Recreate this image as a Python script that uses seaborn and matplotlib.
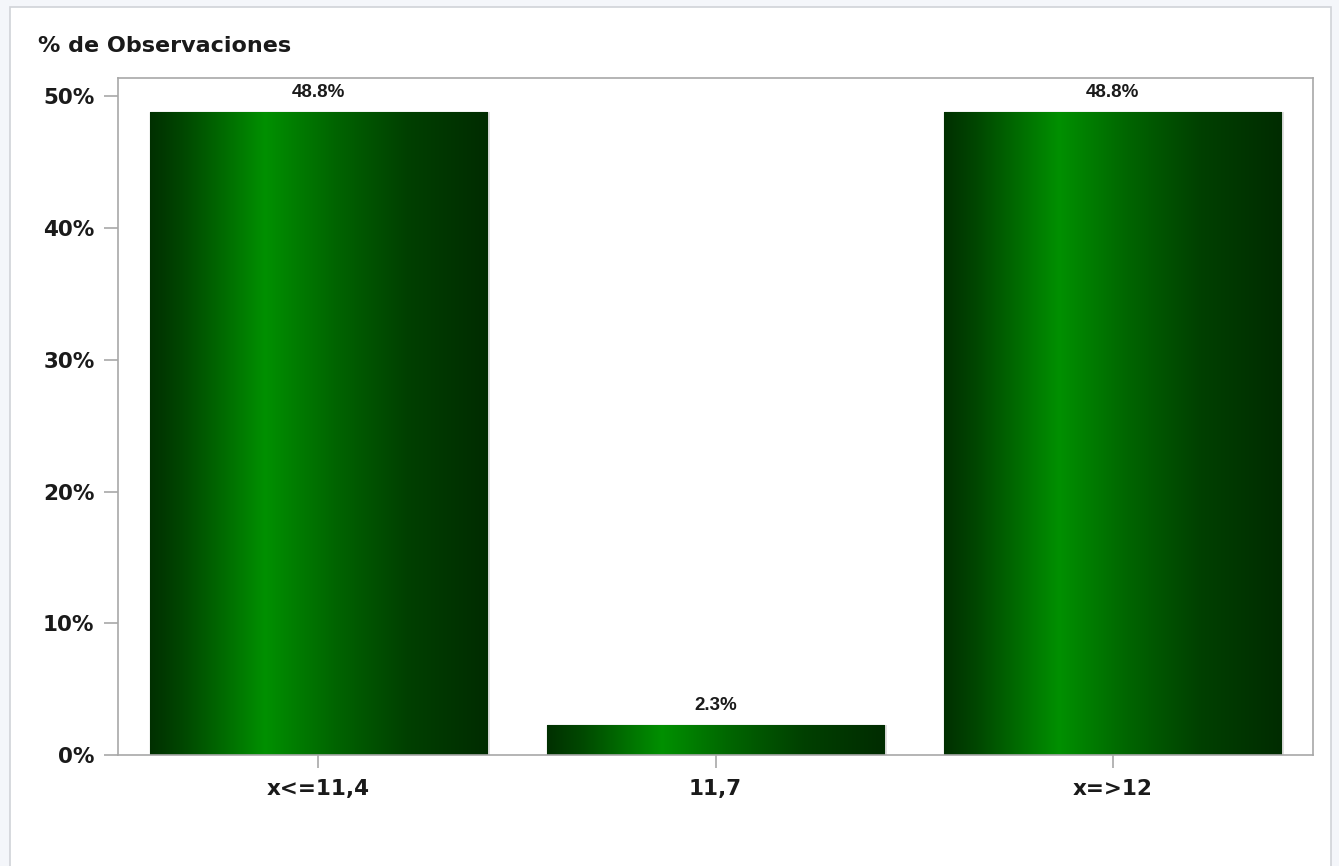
import numpy as np
import pandas as pd
import matplotlib
matplotlib.use('Agg')
import matplotlib.pyplot as plt
from matplotlib.colors import LinearSegmentedColormap
from matplotlib.patches import Rectangle
import seaborn as sns

# Data
categorias = ['x<=11,4', '11,7', 'x=>12']
porcentajes = [48.8, 2.3, 48.8]
etiquetas = ['48.8%', '2.3%', '48.8%']
yticks = [0, 10, 20, 30, 40, 50]
ytick_labels = ['0%', '10%', '20%', '30%', '40%', '50%']

df = pd.DataFrame({'cat': categorias, 'pct': porcentajes})

sns.set_style('white')
plt.rcParams['font.family'] = ['DejaVu Sans']

fig = plt.figure(figsize=(13.39, 8.66), dpi=100)
fig.patch.set_facecolor('#f4f6fa')

# white panel with thin grey border (behind the axes)
fig.patches.append(Rectangle((10 / 1339, -0.01), 1321 / 1339, 1 - 7 / 866 + 0.01,
                             transform=fig.transFigure, facecolor='white',
                             edgecolor='#d0d3d8', linewidth=1.2, zorder=-5))

ax = fig.add_axes([118 / 1339, (866 - 755) / 866, (1313 - 118) / 1339, (755 - 78) / 866])
ax.set_facecolor('white')

sns.barplot(data=df, x='cat', y='pct', ax=ax, width=0.85, color='#004400',
            edgecolor='#002800', linewidth=0.8, zorder=2)

# horizontal green gradient clipped to each bar
cmap = LinearSegmentedColormap.from_list('verde', [
    (0.0, '#003000'), (0.10, '#004800'), (0.34, '#009000'),
    (0.55, '#006400'), (0.76, '#004000'), (1.0, '#002c00')])
grad = np.linspace(0, 1, 256).reshape(1, -1)
for p in list(ax.patches):
    x0, y0 = p.get_x(), p.get_y()
    w, h = p.get_width(), p.get_height()
    # soft shadow on the right
    ax.add_patch(Rectangle((x0 + 0.006, y0), w, h, facecolor='#000000',
                           alpha=0.12, edgecolor='none', zorder=1.5))
    im = ax.imshow(grad, cmap=cmap, aspect='auto', extent=(x0, x0 + w, y0, y0 + h),
                   zorder=2.5, interpolation='bilinear')
    im.set_clip_path(p)

ax.set_xlim(-0.505, 2.505)
ax.set_ylim(0, 51.4)

for i, (v, lab) in enumerate(zip(porcentajes, etiquetas)):
    ax.annotate(lab, (i, v), xytext=(0, 8), textcoords='offset points',
                ha='center', va='bottom', fontsize=13.5, fontweight='bold',
                family=['Liberation Sans', 'DejaVu Sans'], color='#1a1a1a')

ax.set_yticks(yticks)
ax.set_yticklabels(ytick_labels)
ax.set_xlabel('')
ax.set_ylabel('')

for s in ax.spines.values():
    s.set_visible(True)
    s.set_color('#a8a8a8')
    s.set_linewidth(1.2)

ax.tick_params(axis='y', which='major', length=10, width=1.2, color='#a8a8a8',
               labelsize=15.5, pad=7, left=True, labelcolor='#1a1a1a')
ax.tick_params(axis='x', which='major', length=9.5, width=1.2, color='#a8a8a8',
               labelsize=15.5, pad=8, bottom=True, labelcolor='#1a1a1a')
for t in ax.get_xticklabels() + ax.get_yticklabels():
    t.set_fontweight('bold')

fig.text(38 / 1339, 1 - 46 / 866, '% de Observaciones', fontsize=16,
         fontweight='bold', color='#1a1a1a', ha='left', va='center')

fig.savefig('out.png', dpi=100, facecolor=fig.get_facecolor())
